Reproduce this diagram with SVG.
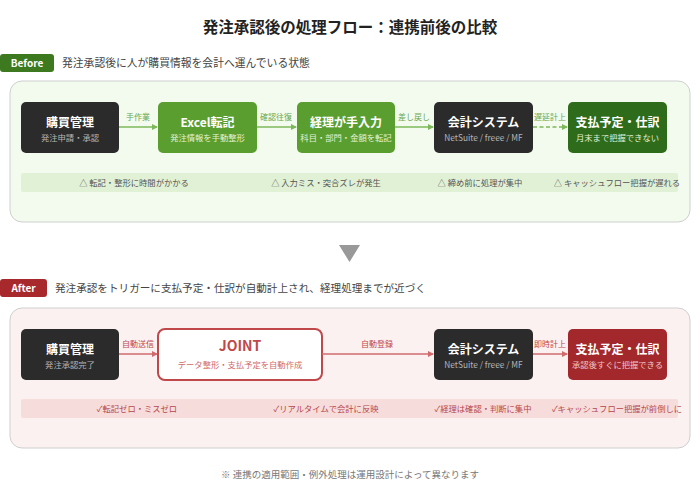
<svg xmlns="http://www.w3.org/2000/svg" width="700" height="499" viewBox="0 0 700 499">
<defs>
<marker id="ag" markerWidth="6" markerHeight="6" refX="5" refY="3" orient="auto" markerUnits="userSpaceOnUse"><path d="M0,0 L6,3 L0,6 z" fill="#7cb85a"/></marker>
<marker id="ar" markerWidth="6" markerHeight="6" refX="5" refY="3" orient="auto" markerUnits="userSpaceOnUse"><path d="M0,0 L6,3 L0,6 z" fill="#d06a6c"/></marker>
</defs>
<style>
text{font-family:"Noto Sans CJK JP","Noto Sans",sans-serif}
.t{font-size:12px;font-weight:bold;fill:#fff;text-anchor:middle}
.s{font-size:8.3px;text-anchor:middle}
.sd{fill:#b5b5b5}
.sg{fill:#e3f2d6}
.lbg{font-size:8px;fill:#6aa84f;text-anchor:middle}
.lbr{font-size:8px;fill:#c0474a;text-anchor:middle}
.ng{font-size:8.3px;fill:#555;text-anchor:middle}
.nr{font-size:8.3px;fill:#b5474a;text-anchor:middle}
.lg{stroke:#7cb85a;stroke-width:1.5;fill:none}
.lr{stroke:#d06a6c;stroke-width:1.5;fill:none}
</style>
<rect width="700" height="499" fill="#fff"/>
<text x="350" y="33" font-size="15.5" font-weight="bold" fill="#222" text-anchor="middle">発注承認後の処理フロー：連携前後の比較</text>

<g id="before-header">
<rect x="0" y="54" width="54" height="18" rx="3" fill="#3d7a1f"/>
<text x="27" y="67" font-size="10" font-weight="bold" fill="#fff" text-anchor="middle">Before</text>
<text x="62" y="67" font-size="10.8" fill="#444">発注承認後に人が購買情報を会計へ運んでいる状態</text>
</g>
<rect id="before-panel" x="10" y="81" width="680" height="141" rx="12" fill="#f2fbee" stroke="#cfcfcf" stroke-width="1"/>

<g id="before-notes">
<rect x="21" y="173" width="657" height="19" rx="2" fill="#e1f1d6"/>
<text class="ng" x="134" y="186">△ 転記・整形に時間がかかる</text>
<text class="ng" x="326" y="186">△ 入力ミス・突合ズレが発生</text>
<text class="ng" x="480" y="186">△ 締め前に処理が集中</text>
<text class="ng" x="617" y="186">△ キャッシュフロー把握が遅れる</text>
</g>

<g id="b1"><rect x="21" y="102" width="98" height="51" rx="5" fill="#2b2b2b"/><text class="t" x="70" y="127">購買管理</text><text class="s sd" x="70" y="141">発注申請・承認</text></g>
<g id="b2"><rect x="158" y="102" width="99" height="51" rx="5" fill="#5b9e30"/><text class="t" x="207.5" y="127">Excel転記</text><text class="s sg" x="207.5" y="141">発注情報を手動整形</text></g>
<g id="b3"><rect x="297" y="102" width="98" height="51" rx="5" fill="#5b9e30"/><text class="t" x="346" y="127">経理が手入力</text><text class="s sg" x="346" y="141">科目・部門・金額を転記</text></g>
<g id="b4"><rect x="434" y="102" width="99" height="51" rx="5" fill="#2b2b2b"/><text class="t" x="483.5" y="127">会計システム</text><text class="s sd" x="483.5" y="141">NetSuite / freee / MF</text></g>
<g id="b5"><rect x="568" y="102" width="99" height="51" rx="5" fill="#2e6b1a"/><text class="t" x="617.5" y="127">支払予定・仕訳</text><text class="s sg" x="617.5" y="141">月末まで把握できない</text></g>

<g id="before-connectors">
<line class="lg" x1="119" y1="127" x2="157" y2="127" marker-end="url(#ag)"/>
<text class="lbg" x="138" y="120">手作業</text>
<line class="lg" x1="257" y1="127" x2="296" y2="127" marker-end="url(#ag)"/>
<text class="lbg" x="276" y="120">確認往復</text>
<line class="lg" x1="395" y1="127" x2="433" y2="127" marker-end="url(#ag)"/>
<text class="lbg" x="414" y="120">差し戻し</text>
<line class="lg" x1="533" y1="127" x2="567" y2="127" stroke-dasharray="4,2.5" marker-end="url(#ag)"/>
<text class="lbg" x="550" y="120">遅延計上</text>
</g>

<path id="divider" d="M339,245 L360,245 L349.5,262 z" fill="#999"/>

<g id="after-header">
<rect x="0" y="279" width="47" height="18" rx="3" fill="#a8292c"/>
<text x="23.5" y="292" font-size="10" font-weight="bold" fill="#fff" text-anchor="middle">After</text>
<text x="55" y="292" font-size="10.6" fill="#444">発注承認をトリガーに支払予定・仕訳が自動計上され、経理処理までが近づく</text>
</g>
<rect id="after-panel" x="10" y="308" width="680" height="140" rx="12" fill="#fcf1f1" stroke="#cfcfcf" stroke-width="1"/>

<g id="after-notes">
<rect x="21" y="399" width="657" height="19" rx="2" fill="#f7dcdc"/>
<text class="nr" x="137" y="412">✓転記ゼロ・ミスゼロ</text>
<text class="nr" x="326" y="412">✓リアルタイムで会計に反映</text>
<text class="nr" x="483" y="412">✓経理は確認・判断に集中</text>
<text class="nr" x="617" y="412">✓キャッシュフロー把握が前倒しに</text>
</g>

<g id="a1"><rect x="21" y="329" width="98" height="51" rx="5" fill="#2b2b2b"/><text class="t" x="70" y="354">購買管理</text><text class="s sd" x="70" y="368">発注承認完了</text></g>
<g id="a2"><rect x="158" y="329" width="164" height="51" rx="7" fill="#fff" stroke="#c0474a" stroke-width="2"/><text x="240" y="351" font-size="14" font-weight="bold" fill="#c0474a" text-anchor="middle">JOINT</text><text class="s" x="240" y="368" fill="#d0696b">データ整形・支払予定を自動作成</text></g>
<g id="a3"><rect x="434" y="329" width="99" height="51" rx="5" fill="#2b2b2b"/><text class="t" x="483.5" y="354">会計システム</text><text class="s sd" x="483.5" y="368">NetSuite / freee / MF</text></g>
<g id="a4"><rect x="568" y="329" width="99" height="51" rx="5" fill="#a3282c"/><text class="t" x="617.5" y="354">支払予定・仕訳</text><text class="s" x="617.5" y="368" fill="#f0c4c4">承認後すぐに把握できる</text></g>

<g id="after-connectors">
<line class="lr" x1="119" y1="354" x2="157" y2="354" marker-end="url(#ar)"/>
<text class="lbr" x="138" y="347">自動送信</text>
<line class="lr" x1="322" y1="354" x2="433" y2="354" marker-end="url(#ar)"/>
<text class="lbr" x="377" y="347">自動登録</text>
<line class="lr" x1="533" y1="354" x2="567" y2="354" marker-end="url(#ar)"/>
<text class="lbr" x="550" y="347">即時計上</text>
</g>

<text x="350" y="478" font-size="9.5" fill="#777" text-anchor="middle">※ 連携の適用範囲・例外処理は運用設計によって異なります</text>
</svg>
